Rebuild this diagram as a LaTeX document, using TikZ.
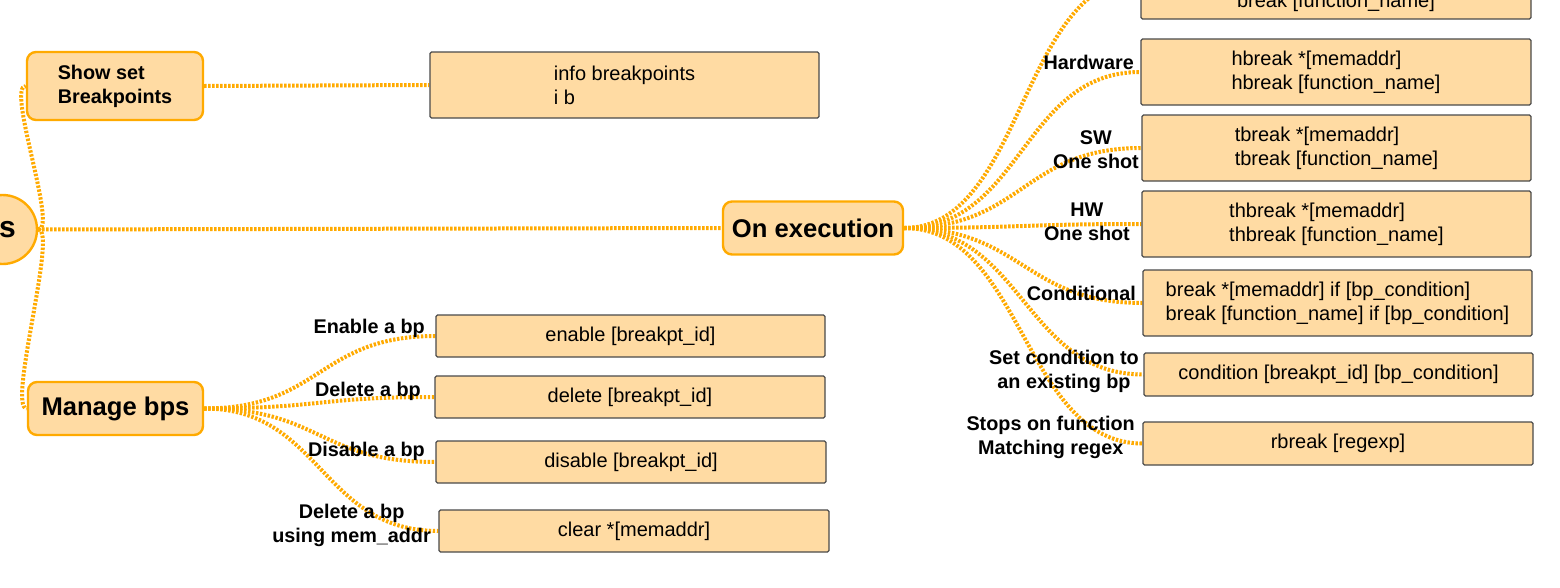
\documentclass[tikz,border=0pt]{standalone}
\usepackage{fontspec}
\setmainfont{Liberation Sans}
\definecolor{branch}{HTML}{FFAA00}
\definecolor{boxfill}{HTML}{FFDBA3}
\definecolor{boxedge}{HTML}{4A4A4A}
\pgfdeclarelayer{bg}
\pgfsetlayers{bg,main}
\tikzset{
  link/.style={draw=branch, line width=4pt, dash pattern=on 2.4pt off 1.6pt},
  topic/.style={draw=branch, fill=boxfill, line width=2.4pt, rounded corners=9pt,
    inner sep=0pt, align=left, font=\bfseries\fontsize{19.8}{24}\selectfont},
  bigtopic/.style={topic, font=\bfseries\fontsize{25.6}{30}\selectfont},
  cmd/.style={draw=boxedge, fill=boxfill, line width=1.2pt, rounded corners=1.5pt,
    inner sep=0pt, align=left, font=\fontsize{20}{24}\selectfont},
  cmdtext/.style={inner sep=0pt, font=\fontsize{20}{24}\selectfont},
  tag/.style={inner sep=0pt, anchor=east, align=center,
    font=\bfseries\fontsize{19.8}{24}\selectfont},
}
\begin{document}
\begin{tikzpicture}[x=1pt, y=-1pt]
  \useasboundingbox (0,0) rectangle (1560,587);
  \clip (0,0) rectangle (1560,587);

  % central topic
  \node[draw=branch, fill=boxfill, line width=2.4pt, circle, minimum size=69pt,
    inner sep=0pt] (root) at (2.5,229.5) {};
  \node[inner sep=0pt, font=\bfseries\fontsize{30}{36}\selectfont] (rootname) at (7.5,230) {s};

  % main branches
  \node[topic, minimum width=176pt, minimum height=68pt] (show) at (115,86)
    {Show set\\Breakpoints};
  \node[bigtopic, minimum width=180pt, minimum height=53pt] (oe) at (813,228)
    {On execution};
  \node[bigtopic, minimum width=175pt, minimum height=53pt] (mb) at (115.5,408.5)
    {Manage bps};

  % listing breakpoints
  \node[cmd, minimum width=389pt, minimum height=66pt] (info) at (624.5,85)
    {info breakpoints\\i b};

  % breakpoint kinds
  \node[cmd, minimum width=390pt, minimum height=80pt] (sw) at (1336,-21) {};
  \node[cmdtext] (swtext) at (1336,2) {break [function\_name]};
  \node[cmd, minimum width=390pt, minimum height=66pt] (hw) at (1336,72)
    {hbreak *[memaddr]\\hbreak [function\_name]};
  \node[cmd, minimum width=389pt, minimum height=66pt] (swo) at (1336.5,148)
    {tbreak *[memaddr]\\tbreak [function\_name]};
  \node[cmd, minimum width=389pt, minimum height=66pt] (hwo) at (1336.5,224)
    {thbreak *[memaddr]\\thbreak [function\_name]};
  \node[cmd, minimum width=389pt, minimum height=66pt] (cond) at (1337.5,303)
    {break *[memaddr] if [bp\_condition]\\break [function\_name] if [bp\_condition]};
  \node[cmd, minimum width=389pt, minimum height=43pt] (setc) at (1338.5,374.5)
    {condition [breakpt\_id] [bp\_condition]};
  \node[cmd, minimum width=390pt, minimum height=43pt] (rx) at (1338,443.5)
    {rbreak [regexp]};

  \node[tag] (thw) at (1134,62) {Hardware};
  \node[tag] (tswo) at (1139,150) {SW\\One shot};
  \node[tag] (thwo) at (1130,222) {HW\\One shot};
  \node[tag] (tcond) at (1136,293) {Conditional};
  \node[tag] (tsetc) at (1139,371) {Set condition to\\an existing bp};
  \node[tag] (trx) at (1135,437) {Stops on function\\Matching regex};

  % managing breakpoints
  \node[cmd, minimum width=389pt, minimum height=42pt] (en) at (630.5,336)
    {enable [breakpt\_id]};
  \node[cmd, minimum width=390pt, minimum height=42pt] (del) at (630,397)
    {delete [breakpt\_id]};
  \node[cmd, minimum width=390pt, minimum height=42pt] (dis) at (631,462)
    {disable [breakpt\_id]};
  \node[cmd, minimum width=390pt, minimum height=42pt] (clr) at (634,531)
    {clear *[memaddr]};

  \node[tag] (ten) at (425,328) {Enable a bp};
  \node[tag] (tdel) at (421,391) {Delete a bp};
  \node[tag] (tdis) at (425,451) {Disable a bp};
  \node[tag] (tclr) at (431,525) {Delete a bp\\using mem\_addr};

  \begin{pgfonlayer}{bg}
    \draw[link] (root.east) -- (oe.west);
    \draw[link] (root.east) .. controls +(20,0) and +(-20,0) .. (show.west);
    \draw[link] (root.east) .. controls +(20,0) and +(-20,0) .. (mb.west);
    \draw[link] (show.east) -- (info.west);

    \foreach \t in {sw,hw,swo,hwo,cond,setc,rx}
      \draw[link] (oe.east) .. controls +(119,0) and +(-119,0) .. (\t.west);
    \foreach \t in {en,del,dis,clr}
      \draw[link] (mb.east) .. controls +(117,0) and +(-117,0) .. (\t.west);
  \end{pgfonlayer}
\end{tikzpicture}
\end{document}
